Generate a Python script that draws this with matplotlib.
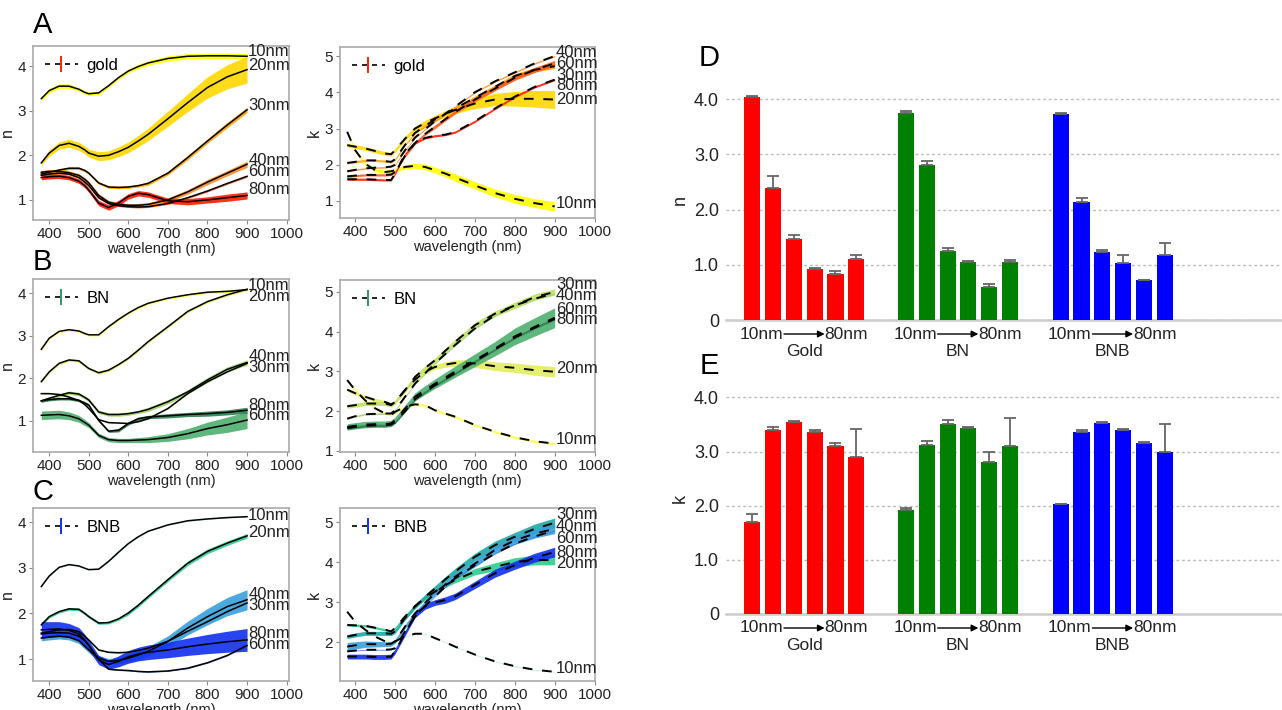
import numpy as np
import matplotlib
matplotlib.use('Agg')
import matplotlib.pyplot as plt
from matplotlib.lines import Line2D
from matplotlib.transforms import blended_transform_factory, offset_copy

plt.rcParams['font.family'] = ['Liberation Sans', 'DejaVu Sans']

# ---------------- data ----------------
WL = [380, 400, 425, 450, 475, 490, 500, 525, 550, 575, 600, 625, 650, 700, 750, 800, 850, 900]
SIZES = ['10nm', '20nm', '30nm', '40nm', '60nm', '80nm']

# gold, refractive index n
N_GOLD = [
    [3.27, 3.45, 3.55, 3.55, 3.48, 3.41, 3.38, 3.40, 3.56, 3.74, 3.89, 3.99, 4.07, 4.17, 4.22, 4.23, 4.23, 4.22],
    [1.83, 2.05, 2.22, 2.27, 2.20, 2.12, 2.05, 1.98, 2.00, 2.08, 2.18, 2.32, 2.47, 2.82, 3.18, 3.52, 3.76, 3.92],
    [1.58, 1.62, 1.67, 1.71, 1.71, 1.66, 1.60, 1.38, 1.29, 1.28, 1.29, 1.32, 1.37, 1.60, 1.95, 2.32, 2.68, 3.02],
    [1.62, 1.64, 1.64, 1.61, 1.55, 1.46, 1.38, 1.10, 0.95, 0.90, 0.88, 0.88, 0.90, 1.00, 1.18, 1.40, 1.60, 1.80],
    [1.55, 1.58, 1.60, 1.58, 1.50, 1.40, 1.32, 1.05, 0.92, 0.87, 0.85, 0.84, 0.85, 0.92, 1.05, 1.20, 1.37, 1.53],
    [1.50, 1.52, 1.53, 1.50, 1.42, 1.32, 1.22, 0.93, 0.83, 0.93, 1.08, 1.15, 1.12, 0.98, 0.96, 1.00, 1.05, 1.10],
]
N_GOLD_ERR = [
    [0.05, 0.05, 0.05, 0.05, 0.04, 0.04, 0.04, 0.04, 0.04, 0.04, 0.04, 0.05, 0.05, 0.06, 0.06, 0.06, 0.06, 0.06],
    [0.05, 0.07, 0.08, 0.09, 0.09, 0.09, 0.09, 0.10, 0.10, 0.11, 0.12, 0.13, 0.14, 0.17, 0.20, 0.24, 0.27, 0.30],
    [0.03, 0.03, 0.03, 0.03, 0.03, 0.03, 0.03, 0.03, 0.03, 0.03, 0.03, 0.03, 0.04, 0.04, 0.05, 0.05, 0.06, 0.06],
    [0.04, 0.04, 0.04, 0.04, 0.04, 0.04, 0.04, 0.04, 0.04, 0.04, 0.04, 0.04, 0.04, 0.05, 0.05, 0.06, 0.06, 0.07],
    [0.02, 0.02, 0.02, 0.02, 0.02, 0.02, 0.02, 0.02, 0.02, 0.02, 0.02, 0.02, 0.02, 0.02, 0.02, 0.02, 0.02, 0.02],
    [0.05, 0.05, 0.05, 0.05, 0.05, 0.05, 0.05, 0.06, 0.06, 0.06, 0.06, 0.06, 0.06, 0.06, 0.07, 0.07, 0.08, 0.08],
]
# gold, extinction coefficient k
K_GOLD = [
    [2.91, 2.40, 2.03, 1.85, 1.80, 1.82, 1.85, 1.94, 1.97, 1.94, 1.85, 1.76, 1.65, 1.43, 1.22, 1.06, 0.94, 0.85],
    [2.54, 2.50, 2.45, 2.38, 2.31, 2.29, 2.40, 2.72, 3.00, 3.15, 3.28, 3.40, 3.51, 3.69, 3.80, 3.82, 3.82, 3.80],
    [2.05, 2.08, 2.12, 2.12, 2.10, 2.08, 2.15, 2.55, 2.88, 3.07, 3.25, 3.40, 3.55, 3.85, 4.15, 4.45, 4.62, 4.72],
    [1.82, 1.86, 1.90, 1.92, 1.93, 1.95, 2.00, 2.40, 2.75, 2.98, 3.20, 3.40, 3.60, 4.00, 4.30, 4.55, 4.80, 5.00],
    [1.68, 1.70, 1.72, 1.72, 1.72, 1.73, 1.80, 2.25, 2.60, 2.85, 3.05, 3.25, 3.45, 3.80, 4.10, 4.40, 4.62, 4.80],
    [1.60, 1.60, 1.60, 1.59, 1.58, 1.58, 1.75, 2.30, 2.60, 2.74, 2.80, 2.83, 2.90, 3.20, 3.55, 3.88, 4.15, 4.35],
]
K_GOLD_ERR = [
    [0.03, 0.03, 0.04, 0.04, 0.05, 0.05, 0.05, 0.06, 0.07, 0.08, 0.08, 0.09, 0.10, 0.10, 0.11, 0.12, 0.12, 0.13],
    [0.05, 0.05, 0.05, 0.05, 0.05, 0.05, 0.05, 0.06, 0.06, 0.07, 0.08, 0.09, 0.10, 0.14, 0.17, 0.20, 0.23, 0.25],
    [0.03, 0.03, 0.03, 0.03, 0.03, 0.03, 0.03, 0.03, 0.03, 0.04, 0.04, 0.04, 0.04, 0.05, 0.05, 0.06, 0.06, 0.06],
    [0.02, 0.02, 0.02, 0.02, 0.02, 0.02, 0.02, 0.02, 0.02, 0.02, 0.02, 0.02, 0.02, 0.02, 0.02, 0.02, 0.02, 0.02],
    [0.03, 0.03, 0.03, 0.03, 0.03, 0.03, 0.03, 0.04, 0.04, 0.04, 0.05, 0.05, 0.05, 0.06, 0.06, 0.07, 0.07, 0.08],
    [0.03, 0.03, 0.03, 0.03, 0.03, 0.03, 0.03, 0.03, 0.03, 0.03, 0.03, 0.03, 0.03, 0.03, 0.03, 0.03, 0.03, 0.03],
]

# BN
N_BN = [
    [2.68, 2.94, 3.10, 3.14, 3.11, 3.05, 3.02, 3.02, 3.21, 3.38, 3.53, 3.66, 3.76, 3.88, 3.96, 4.02, 4.04, 4.08],
    [1.92, 2.15, 2.35, 2.43, 2.41, 2.30, 2.23, 2.13, 2.19, 2.32, 2.47, 2.66, 2.86, 3.21, 3.57, 3.80, 3.96, 4.09],
    [1.64, 1.64, 1.62, 1.56, 1.48, 1.38, 1.29, 1.03, 0.96, 0.95, 0.94, 0.98, 1.05, 1.29, 1.64, 1.92, 2.15, 2.35],
    [1.47, 1.53, 1.60, 1.66, 1.63, 1.55, 1.49, 1.21, 1.15, 1.15, 1.17, 1.21, 1.27, 1.45, 1.68, 1.96, 2.21, 2.37],
    [1.13, 1.14, 1.15, 1.12, 1.05, 0.96, 0.90, 0.66, 0.56, 0.54, 0.54, 0.55, 0.56, 0.61, 0.70, 0.82, 0.91, 1.02],
    [1.47, 1.50, 1.52, 1.52, 1.48, 1.42, 1.37, 1.01, 0.76, 0.78, 0.94, 1.05, 1.09, 1.12, 1.15, 1.17, 1.20, 1.25],
]
N_BN_ERR = [
    [0.03, 0.03, 0.03, 0.03, 0.03, 0.03, 0.03, 0.03, 0.03, 0.03, 0.03, 0.03, 0.03, 0.03, 0.03, 0.03, 0.03, 0.03],
    [0.03, 0.03, 0.03, 0.03, 0.03, 0.03, 0.03, 0.03, 0.03, 0.03, 0.03, 0.03, 0.03, 0.03, 0.03, 0.03, 0.03, 0.03],
    [0.01, 0.01, 0.01, 0.01, 0.01, 0.01, 0.01, 0.01, 0.01, 0.01, 0.01, 0.01, 0.01, 0.01, 0.01, 0.01, 0.01, 0.01],
    [0.04, 0.04, 0.04, 0.04, 0.04, 0.04, 0.04, 0.04, 0.04, 0.04, 0.04, 0.04, 0.05, 0.05, 0.05, 0.06, 0.06, 0.06],
    [0.10, 0.10, 0.10, 0.09, 0.08, 0.07, 0.06, 0.05, 0.05, 0.05, 0.05, 0.06, 0.07, 0.09, 0.12, 0.15, 0.18, 0.20],
    [0.03, 0.03, 0.03, 0.03, 0.03, 0.03, 0.03, 0.03, 0.03, 0.04, 0.04, 0.04, 0.04, 0.05, 0.05, 0.06, 0.06, 0.07],
]
K_BN = [
    [2.78, 2.53, 2.27, 2.07, 1.94, 1.90, 1.98, 2.11, 2.17, 2.15, 2.02, 1.94, 1.86, 1.65, 1.48, 1.34, 1.24, 1.18],
    [2.54, 2.45, 2.36, 2.28, 2.23, 2.17, 2.23, 2.53, 2.79, 2.99, 3.11, 3.17, 3.21, 3.20, 3.13, 3.09, 3.03, 2.99],
    [2.12, 2.15, 2.19, 2.19, 2.19, 2.15, 2.23, 2.53, 2.86, 3.08, 3.28, 3.51, 3.74, 4.16, 4.45, 4.66, 4.87, 5.00],
    [1.81, 1.87, 1.92, 1.93, 1.94, 1.94, 2.02, 2.36, 2.69, 2.95, 3.20, 3.43, 3.66, 4.08, 4.41, 4.66, 4.83, 4.96],
    [1.60, 1.63, 1.66, 1.67, 1.67, 1.69, 1.77, 2.06, 2.36, 2.53, 2.69, 2.84, 2.99, 3.28, 3.57, 3.88, 4.12, 4.35],
    [1.57, 1.60, 1.63, 1.64, 1.64, 1.66, 1.72, 2.00, 2.30, 2.48, 2.65, 2.80, 2.95, 3.25, 3.55, 3.85, 4.10, 4.32],
]
K_BN_ERR = [
    [0.03, 0.03, 0.03, 0.03, 0.03, 0.03, 0.03, 0.03, 0.03, 0.03, 0.03, 0.03, 0.03, 0.03, 0.03, 0.03, 0.03, 0.03],
    [0.04, 0.04, 0.04, 0.04, 0.04, 0.04, 0.04, 0.05, 0.05, 0.06, 0.06, 0.07, 0.08, 0.10, 0.11, 0.12, 0.13, 0.13],
    [0.05, 0.05, 0.05, 0.05, 0.05, 0.05, 0.05, 0.05, 0.05, 0.06, 0.06, 0.06, 0.06, 0.07, 0.07, 0.08, 0.08, 0.08],
    [0.02, 0.02, 0.02, 0.02, 0.02, 0.02, 0.02, 0.02, 0.02, 0.02, 0.02, 0.02, 0.02, 0.02, 0.02, 0.02, 0.02, 0.02],
    [0.08, 0.08, 0.08, 0.08, 0.08, 0.08, 0.08, 0.09, 0.10, 0.11, 0.12, 0.13, 0.14, 0.16, 0.18, 0.21, 0.23, 0.25],
    [0.03, 0.03, 0.03, 0.03, 0.03, 0.03, 0.03, 0.03, 0.03, 0.03, 0.03, 0.03, 0.03, 0.03, 0.03, 0.03, 0.03, 0.03],
]

# BNB
N_BNB = [
    [2.59, 2.82, 3.01, 3.07, 3.04, 2.99, 2.96, 2.97, 3.14, 3.34, 3.53, 3.68, 3.80, 3.94, 4.03, 4.07, 4.10, 4.12],
    [1.75, 1.93, 2.04, 2.10, 2.09, 2.00, 1.93, 1.79, 1.80, 1.88, 2.01, 2.18, 2.37, 2.74, 3.10, 3.36, 3.54, 3.70],
    [1.57, 1.60, 1.64, 1.65, 1.60, 1.50, 1.42, 1.20, 1.15, 1.14, 1.15, 1.19, 1.24, 1.39, 1.61, 1.82, 2.04, 2.23],
    [1.46, 1.48, 1.50, 1.48, 1.40, 1.28, 1.20, 1.02, 0.95, 0.97, 1.02, 1.09, 1.17, 1.39, 1.68, 1.93, 2.15, 2.30],
    [1.55, 1.57, 1.58, 1.57, 1.50, 1.40, 1.30, 1.00, 0.78, 0.76, 0.75, 0.73, 0.72, 0.74, 0.80, 0.92, 1.08, 1.30],
    [1.64, 1.65, 1.66, 1.63, 1.55, 1.42, 1.30, 0.98, 0.88, 0.95, 1.05, 1.11, 1.15, 1.20, 1.27, 1.33, 1.38, 1.42],
]
N_BNB_ERR = [
    [0.01, 0.01, 0.01, 0.01, 0.01, 0.01, 0.01, 0.01, 0.01, 0.01, 0.01, 0.01, 0.01, 0.01, 0.01, 0.01, 0.01, 0.01],
    [0.03, 0.03, 0.03, 0.03, 0.03, 0.03, 0.03, 0.03, 0.03, 0.03, 0.04, 0.04, 0.04, 0.04, 0.05, 0.05, 0.05, 0.05],
    [0.01, 0.01, 0.01, 0.01, 0.01, 0.01, 0.01, 0.01, 0.01, 0.01, 0.01, 0.01, 0.01, 0.01, 0.01, 0.01, 0.01, 0.01],
    [0.06, 0.06, 0.06, 0.06, 0.06, 0.06, 0.06, 0.06, 0.06, 0.07, 0.08, 0.09, 0.10, 0.12, 0.15, 0.18, 0.20, 0.22],
    [0.01, 0.01, 0.01, 0.01, 0.01, 0.01, 0.01, 0.01, 0.01, 0.01, 0.01, 0.01, 0.01, 0.01, 0.01, 0.01, 0.01, 0.01],
    [0.18, 0.17, 0.16, 0.15, 0.14, 0.12, 0.11, 0.10, 0.10, 0.12, 0.14, 0.15, 0.16, 0.17, 0.19, 0.21, 0.23, 0.25],
]
K_BNB = [
    [2.76, 2.51, 2.31, 2.14, 2.02, 1.98, 2.02, 2.14, 2.21, 2.21, 2.10, 2.00, 1.89, 1.69, 1.52, 1.40, 1.31, 1.26],
    [2.43, 2.42, 2.41, 2.36, 2.31, 2.27, 2.35, 2.64, 2.90, 3.10, 3.26, 3.42, 3.55, 3.76, 3.88, 4.00, 4.05, 4.05],
    [2.14, 2.18, 2.22, 2.22, 2.22, 2.21, 2.27, 2.60, 2.89, 3.13, 3.34, 3.56, 3.76, 4.13, 4.42, 4.63, 4.83, 4.98],
    [1.89, 1.92, 1.95, 1.95, 1.95, 1.96, 2.02, 2.39, 2.72, 2.98, 3.22, 3.43, 3.63, 3.96, 4.30, 4.54, 4.71, 4.83],
    [1.77, 1.79, 1.81, 1.81, 1.81, 1.82, 1.85, 2.27, 2.64, 2.90, 3.14, 3.38, 3.59, 3.92, 4.21, 4.46, 4.64, 4.79],
    [1.64, 1.64, 1.64, 1.63, 1.63, 1.64, 1.77, 2.22, 2.68, 2.89, 2.99, 3.05, 3.14, 3.43, 3.72, 3.92, 4.11, 4.25],
]
K_BNB_ERR = [
    [0.01, 0.01, 0.01, 0.01, 0.01, 0.01, 0.01, 0.01, 0.01, 0.01, 0.01, 0.01, 0.01, 0.01, 0.01, 0.01, 0.01, 0.01],
    [0.03, 0.03, 0.03, 0.03, 0.03, 0.03, 0.03, 0.04, 0.04, 0.05, 0.05, 0.06, 0.07, 0.08, 0.10, 0.11, 0.12, 0.12],
    [0.05, 0.05, 0.05, 0.05, 0.05, 0.05, 0.05, 0.05, 0.06, 0.06, 0.07, 0.07, 0.08, 0.09, 0.10, 0.11, 0.12, 0.12],
    [0.10, 0.09, 0.08, 0.07, 0.06, 0.06, 0.05, 0.05, 0.05, 0.05, 0.06, 0.07, 0.07, 0.08, 0.09, 0.10, 0.11, 0.12],
    [0.01, 0.01, 0.01, 0.01, 0.01, 0.01, 0.01, 0.01, 0.01, 0.01, 0.01, 0.01, 0.01, 0.01, 0.01, 0.01, 0.01, 0.01],
    [0.06, 0.06, 0.06, 0.06, 0.06, 0.06, 0.06, 0.06, 0.07, 0.07, 0.07, 0.08, 0.08, 0.09, 0.10, 0.10, 0.11, 0.12],
]

# y positions of the thickness labels at the right end of each curve panel
LAB_N_GOLD = [4.33, 4.02, 3.11, 1.89, 1.63, 1.23]
LAB_K_GOLD = [0.93, 3.80, 4.47, 5.09, 4.80, 4.18]
LAB_N_BN = [4.18, 3.92, 2.26, 2.51, 1.12, 1.37]
LAB_K_BN = [1.29, 3.07, 5.19, 4.92, 4.56, 4.30]
LAB_N_BNB = [4.15, 3.78, 2.18, 2.41, 1.31, 1.55]
LAB_K_BNB = [1.34, 3.96, 5.18, 4.90, 4.60, 4.25]

# bar charts (D: n, E: k) with one-sided error
GROUPS = ['Gold', 'BN', 'BNB']
N_BAR_GOLD = [4.04, 2.39, 1.46, 0.92, 0.83, 1.10]
N_BAR_BN = [3.75, 2.80, 1.25, 1.05, 0.59, 1.05]
N_BAR_BNB = [3.72, 2.13, 1.23, 1.03, 0.72, 1.17]
N_BERR_GOLD = [0.01, 0.21, 0.07, 0.03, 0.06, 0.07]
N_BERR_BN = [0.04, 0.07, 0.05, 0.02, 0.07, 0.04]
N_BERR_BNB = [0.02, 0.08, 0.04, 0.15, 0.01, 0.22]
K_BAR_GOLD = [1.70, 3.39, 3.54, 3.37, 3.10, 2.90]
K_BAR_BN = [1.92, 3.13, 3.51, 3.43, 2.81, 3.11]
K_BAR_BNB = [2.03, 3.37, 3.53, 3.39, 3.15, 3.00]
K_BERR_GOLD = [0.14, 0.06, 0.03, 0.02, 0.06, 0.51]
K_BERR_BN = [0.03, 0.06, 0.07, 0.02, 0.18, 0.51]
K_BERR_BNB = [0.01, 0.03, 0.02, 0.02, 0.02, 0.50]

GOLD_COLS = ['#ffff00', '#ffd700', '#ffa500', '#ff8c2a', '#ff5a1a', '#ff1a00']
BN_COLS = ['#ffff55', '#e4ee5c', '#c2e066', '#a3d36c', '#4fb070', '#2e7f50']
BNB_COLS = ['#a8f5d0', '#2ecc8f', '#1fa8a8', '#38a0dc', '#3d6ee6', '#1030f0']

# ---------------- figure ----------------
W, H = 1282, 710
fig = plt.figure(figsize=(W / 100, H / 100), dpi=100)


def px_axes(l, t, r, b):
    return fig.add_axes([l / W, 1 - b / H, (r - l) / W, (b - t) / H])


def curve_panel(ax, vals, errs, cols, lab_y, kind, name, legcol, xlim, ylim, yticks):
    wl = np.array(WL)
    for v, e, c in zip(vals, errs, cols):
        v = np.array(v)
        e = np.array(e)
        ax.fill_between(wl, v - e, v + e, color=c, lw=0, alpha=0.9, zorder=2)
    for v in vals:
        if kind == 'n':
            ax.plot(wl, v, color='black', lw=1.1, zorder=3)
        else:
            ax.plot(wl, v, color='black', lw=1.4, dashes=(5, 5), zorder=3)
    for s, y in zip(SIZES, lab_y):
        ax.text(903, y, s, fontsize=12, va='center', ha='left', color='#222', clip_on=False)
    h = Line2D([], [], color='black', lw=1.2, dashes=(3, 3), marker='|', markersize=12,
               markeredgecolor=legcol, markeredgewidth=1.4)
    ax.legend([h], [name], loc='upper left', frameon=False, fontsize=12, handlelength=2.0,
              numpoints=1, borderaxespad=0.3, handletextpad=0.5)
    ax.set_xlim(*xlim)
    ax.set_ylim(*ylim)
    ax.set_xticks([400, 500, 600, 700, 800, 900, 1000])
    ax.set_yticks(yticks)
    ax.tick_params(labelsize=11, colors='#888', labelcolor='#222', length=3, pad=2)
    for sp in ax.spines.values():
        sp.set_color('#aaaaaa')
        sp.set_linewidth(1.2)
    ax.set_xlabel('wavelength (nm)', fontsize=10.5, color='#222', labelpad=1)
    ax.set_ylabel(kind, fontsize=11.5, color='#222', labelpad=2)


NX = (359, 1006)
KX = (362, 1001)

ax = px_axes(33, 46, 289, 220)
curve_panel(ax, N_GOLD, N_GOLD_ERR, GOLD_COLS, LAB_N_GOLD, 'n', 'gold', '#ff2000', NX, (0.55, 4.45), [1, 2, 3, 4])
ax = px_axes(340, 47, 595, 218)
curve_panel(ax, K_GOLD, K_GOLD_ERR, GOLD_COLS, LAB_K_GOLD, 'k', 'gold', '#ff2000', KX, (0.53, 5.25), [1, 2, 3, 4, 5])
ax = px_axes(33, 279, 289, 452)
curve_panel(ax, N_BN, N_BN_ERR, BN_COLS, LAB_N_BN, 'n', 'BN', '#2e9a60', NX, (0.27, 4.33), [1, 2, 3, 4])
ax = px_axes(340, 280, 595, 452)
curve_panel(ax, K_BN, K_BN_ERR, BN_COLS, LAB_K_BN, 'k', 'BN', '#2e9a60', KX, (0.97, 5.3), [1, 2, 3, 4, 5])
ax = px_axes(33, 508, 289, 681)
curve_panel(ax, N_BNB, N_BNB_ERR, BNB_COLS, LAB_N_BNB, 'n', 'BNB', '#1030f0', NX, (0.52, 4.31), [1, 2, 3, 4])
ax = px_axes(340, 508, 595, 681)
curve_panel(ax, K_BNB, K_BNB_ERR, BNB_COLS, LAB_K_BNB, 'k', 'BNB', '#1030f0', KX, (1.03, 5.35), [2, 3, 4, 5])

# panel letters
for s, x, y in [('A', 33, 25), ('B', 33, 262), ('C', 33, 492), ('D', 699, 58), ('E', 700, 366)]:
    fig.text(x / W, 1 - y / H, s, fontsize=21, va='center', ha='left', color='black')


GROUP_X = [0, 7.4, 14.85]
BAR_COLS = ['#ff0000', '#008000', '#0000ff']


def bar_panel(ax, vals, errs, ylabel, ytop):
    for g, (v, e, c) in enumerate(zip(vals, errs, BAR_COLS)):
        x = np.arange(6) + GROUP_X[g]
        ax.bar(x, v, width=0.78, color=c, zorder=3,
               yerr=[np.zeros(6), e],
               error_kw=dict(ecolor='#666666', capsize=4, elinewidth=1.3, capthick=1.3, zorder=4))
    ax.set_xlim(-1.27, 25.5)
    ax.set_ylim(0, ytop)
    ax.set_yticks([0, 1, 2, 3, 4])
    ax.set_yticklabels(['0', '1.0', '2.0', '3.0', '4.0'])
    ax.set_xticks([])
    ax.yaxis.grid(True, ls=(0, (2, 2)), color='#bbbbbb', lw=1)
    ax.set_axisbelow(True)
    ax.tick_params(axis='y', length=0, labelsize=13, labelcolor='#222', pad=5)
    for sp in ['left', 'top', 'right']:
        ax.spines[sp].set_visible(False)
    ax.spines['bottom'].set_color('#cccccc')
    ax.spines['bottom'].set_linewidth(1.8)
    ax.set_ylabel(ylabel, fontsize=13, color='#222', labelpad=4)
    trans = blended_transform_factory(ax.transData, ax.transAxes)
    t1 = offset_copy(trans, fig=fig, y=-14, units='dots')
    t2 = offset_copy(trans, fig=fig, y=-31, units='dots')
    for g, name in enumerate(GROUPS):
        c = GROUP_X[g] + 2.5
        ax.text(c - 1.02, 0, '10nm', transform=t1, ha='right', va='center', fontsize=12.5, color='#222')
        ax.text(c + 0.98, 0, '80nm', transform=t1, ha='left', va='center', fontsize=12.5, color='#222')
        ax.annotate('', xy=(c + 0.98, 0), xycoords=t1, xytext=(c - 0.98, 0), textcoords=t1,
                    arrowprops=dict(arrowstyle='-|>', color='black', lw=1.0, mutation_scale=10,
                                    shrinkA=0, shrinkB=0),
                    annotation_clip=False)
        ax.text(c, 0, name, transform=t2, ha='center', va='center', fontsize=12.5, color='#222')


axd = fig.add_axes([726 / W, 1 - 320 / H, 1 - 726 / W, 240 / H])
bar_panel(axd, [N_BAR_GOLD, N_BAR_BN, N_BAR_BNB], [N_BERR_GOLD, N_BERR_BN, N_BERR_BNB], 'n', 240 / 55.25)
axe = fig.add_axes([726 / W, 1 - 614 / H, 1 - 726 / W, 232 / H])
bar_panel(axe, [K_BAR_GOLD, K_BAR_BN, K_BAR_BNB], [K_BERR_GOLD, K_BERR_BN, K_BERR_BNB], 'k', 232 / 54.15)

fig.savefig('out.png', dpi=100)
